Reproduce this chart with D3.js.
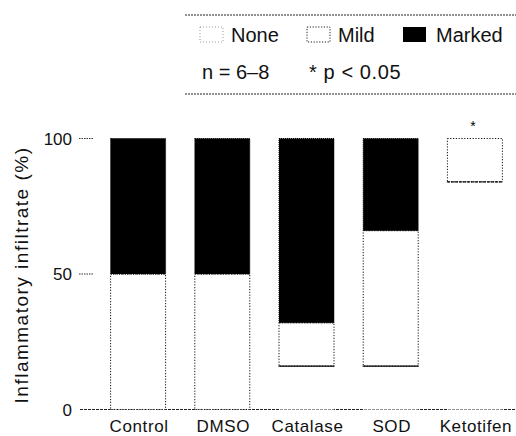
<!DOCTYPE html>
<html>
<head>
<meta charset="utf-8">
<script src="https://cdn.jsdelivr.net/npm/d3@7"></script>
<style>
  html, body { margin: 0; padding: 0; background: #fff; }
  svg { display: block; font-family: "Liberation Sans", Arial, Helvetica, sans-serif; }
</style>
</head>
<body>
<svg id="chart" width="516" height="436"></svg>
<script>
const categories = ["Control", "DMSO", "Catalase", "SOD", "Ketotifen"];
const noneVals   = [0, 0, 16, 16, 84];
const mildVals   = [50, 50, 16, 50, 16];
const markedVals = [50, 50, 68, 34, 0];
const significant = [false, false, false, false, true];
const yTicks = [0, 50, 100];
const seriesKeys = ["None", "Mild", "Marked"];
const legendNote1 = "n = 6\u20138";
const legendNote2 = "* p < 0.05";
const yTitle = "Inflammatory infiltrate (%)";

const rows = categories.map((c, i) => ({
  cat: c, None: noneVals[i], Mild: mildVals[i], Marked: markedVals[i], sig: significant[i]
}));

const svg = d3.select("#chart");

const x = d3.scaleBand().domain(categories).range([96, 517])
  .paddingInner(0.335).paddingOuter(0.1675);
const y = d3.scaleLinear().domain([0, 100]).range([409.5, 138.5]);

const stacked = d3.stack().keys(seriesKeys)(rows);

// baseline (x axis)
svg.append("line")
  .attr("x1", 80).attr("x2", 516)
  .attr("y1", y(0)).attr("y2", y(0))
  .attr("stroke", "#222").attr("stroke-width", 1)
  .attr("stroke-dasharray", "3,1");

// y ticks (no axis line)
const yt = svg.append("g");
yTicks.filter(t => t > 0).forEach(t => {
  yt.append("line")
    .attr("x1", 79).attr("x2", 93)
    .attr("y1", y(t)).attr("y2", y(t))
    .attr("stroke", "#333").attr("stroke-width", 1)
    .attr("stroke-dasharray", "1.5,1");
});
yTicks.forEach(t => {
  yt.append("text")
    .attr("x", 72).attr("y", y(t))
    .attr("dy", "0.38em")
    .attr("text-anchor", "end")
    .attr("font-size", 17)
    .attr("fill", "#111")
    .text(t);
});

// bars
const gBars = svg.append("g");
stacked.forEach(layer => {
  const key = layer.key;
  layer.forEach(d => {
    const h = y(d[0]) - y(d[1]);
    if (h <= 0) return;
    const r = gBars.append("rect")
      .attr("x", x(d.data.cat) + 0.5)
      .attr("y", y(d[1]))
      .attr("width", x.bandwidth() - 1)
      .attr("height", h);
    if (key === "Marked") {
      r.attr("fill", "#000").attr("stroke", "#000").attr("stroke-width", 1)
        .attr("stroke-dasharray", "1,1");
    } else if (key === "Mild") {
      r.attr("fill", "#fff").attr("stroke", "#111").attr("stroke-width", 1)
        .attr("stroke-dasharray", "1.2,1.6");
    } else {
      r.attr("fill", "#fff").attr("stroke", "none");
    }
  });
});
// top edge of "None" segments (solid line)
stacked[0].forEach(d => {
  if (d[1] - d[0] <= 0) return;
  gBars.append("line")
    .attr("x1", x(d.data.cat)).attr("x2", x(d.data.cat) + x.bandwidth())
    .attr("y1", y(d[1])).attr("y2", y(d[1]))
    .attr("stroke", "#000").attr("stroke-width", 1.3)
    .attr("stroke-dasharray", d.data.cat === "Ketotifen" ? "3,1" : null);
});

// significance asterisks
rows.filter(r => r.sig).forEach(r => {
  svg.append("text")
    .attr("x", x(r.cat) + x.bandwidth() / 2 - 2)
    .attr("y", y(100) - 8)
    .attr("text-anchor", "middle")
    .attr("font-size", 14)
    .text("*");
});

// x labels
categories.forEach(c => {
  svg.append("text")
    .attr("x", x(c) + x.bandwidth() / 2 + 1)
    .attr("y", 432)
    .attr("text-anchor", "middle")
    .attr("font-size", 17)
    .attr("letter-spacing", "0.6px")
    .attr("fill", "#111")
    .text(c);
});

// y title
svg.append("text")
  .attr("transform", `translate(28,${(y(0) + y(100)) / 2 + 1}) rotate(-90)`)
  .attr("text-anchor", "middle")
  .attr("font-size", 19)
  .attr("letter-spacing", "1.5px")
  .attr("fill", "#111")
  .text(yTitle);

// legend box lines
[15, 94].forEach(ly => {
  svg.append("line")
    .attr("x1", 185).attr("x2", 516)
    .attr("y1", ly).attr("y2", ly)
    .attr("stroke", "#222").attr("stroke-width", 1)
    .attr("stroke-dasharray", "2,1");
});

const legendItems = [
  { key: "None", sx: 200, tx: 231 },
  { key: "Mild", sx: 307, tx: 338 },
  { key: "Marked", sx: 403, tx: 436 }
];
legendItems.forEach(it => {
  const r = svg.append("rect")
    .attr("x", it.sx).attr("y", 27)
    .attr("width", 23).attr("height", 15);
  if (it.key === "Marked") {
    r.attr("fill", "#000");
  } else if (it.key === "Mild") {
    r.attr("fill", "#fff").attr("stroke", "#222").attr("stroke-dasharray", "1.2,1.6");
  } else {
    r.attr("fill", "#fff").attr("stroke", "#999").attr("stroke-dasharray", "1,2");
  }
  svg.append("text")
    .attr("x", it.tx).attr("y", 42)
    .attr("font-size", 20)
    .attr("fill", "#111")
    .text(it.key);
});
svg.append("text").attr("x", 202).attr("y", 79)
  .attr("font-size", 20).attr("fill", "#111").text(legendNote1);
svg.append("text").attr("x", 309).attr("y", 79)
  .attr("font-size", 20).attr("fill", "#111").attr("letter-spacing", "0.6px").text(legendNote2);
</script>
</body>
</html>
